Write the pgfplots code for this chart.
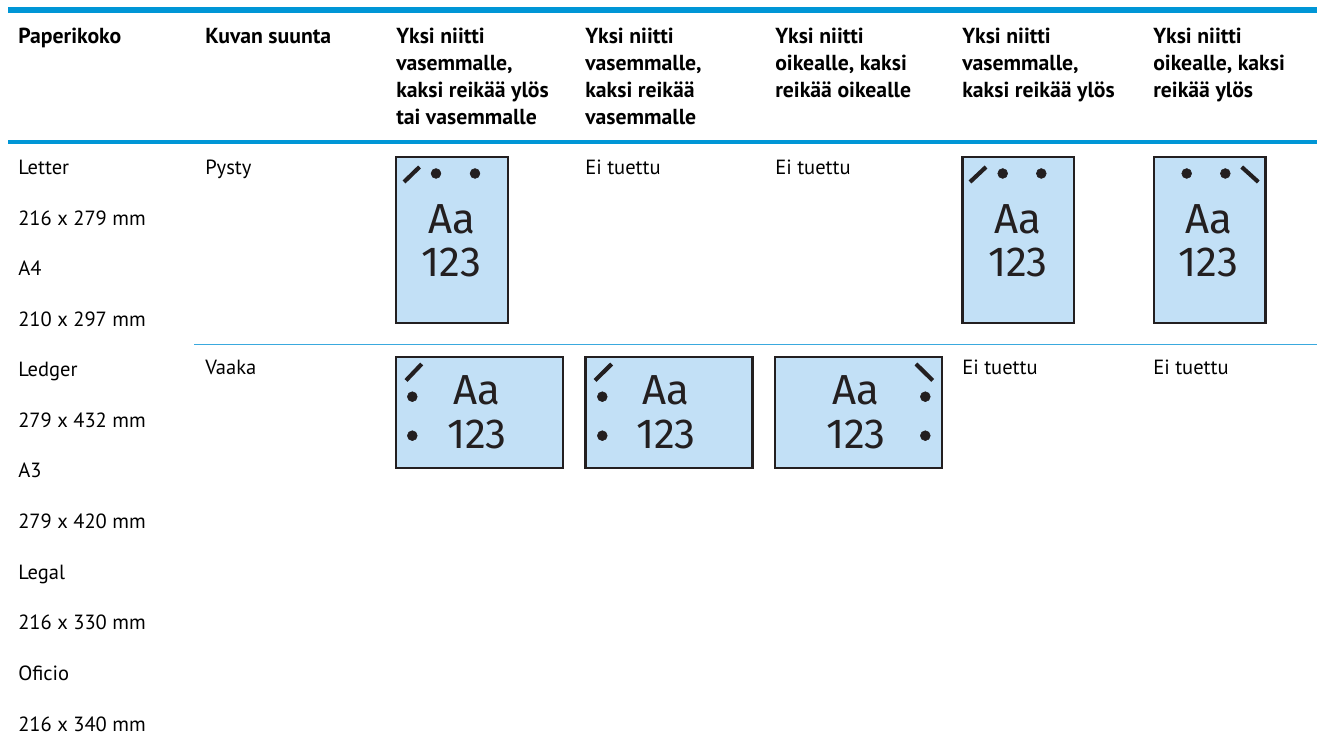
\documentclass[border=0pt]{standalone}
\usepackage{pgfplots}
\pgfplotsset{compat=1.18}
\usepackage{fontspec}
\setmainfont{PT Sans}
\newfontfamily\figs{Fira Sans}
\definecolor{hpblue}{HTML}{0096D6}
\definecolor{rowblue}{HTML}{3AA9DE}
\definecolor{pagefill}{HTML}{C2E0F6}
\definecolor{ink}{HTML}{231F20}
\newcommand{\hd}[3]{\node[anchor=base west,inner sep=0pt,font=\fontsize{16.3pt}{16.3pt}\selectfont\bfseries,text=black] at (axis cs:#1,#2+1) {#3};}
\newcommand{\tx}[3]{\node[anchor=base west,inner sep=0pt,font=\fontsize{15.4pt}{15.4pt}\selectfont,text=black] at (axis cs:#1,#2+1.5) {#3};}
\newcommand{\bigtx}[3]{\node[anchor=base,inner sep=0pt,font=\figs\fontsize{31.5pt}{31.5pt}\selectfont\addfontfeatures{Numbers=Lining},text=ink] at (axis cs:#1,#2) {Aa};
\node[anchor=base,inner sep=0pt,font=\figs\fontsize{31.5pt}{31.5pt}\selectfont\addfontfeatures{Numbers=Lining},text=ink] at (axis cs:#1,#3) {123};}
\pgfplotsset{page/.style={draw=ink,line width=1.95pt,fill=pagefill},
 staple/.style={draw=ink,line width=3.1pt},
 hole/.style={only marks,mark=*,mark size=3.7pt,mark options={fill=ink,draw=ink}}}
\begin{document}
\begin{tikzpicture}
\begin{axis}[
 hide axis, scale only axis, width=988pt, height=559.6pt,
 xmin=0,xmax=1317,ymin=0,ymax=746,y dir=reverse, clip=false]
\addplot[draw=none,fill=white] coordinates {(0,0)(1317,0)(1317,746)(0,746)} --cycle;
\addplot[draw=hpblue,line width=4.8pt] coordinates {(8,10.2)(1317,10.2)};
\addplot[draw=hpblue,line width=2.9pt] coordinates {(8,141.7)(1317,141.7)};
\addplot[draw=rowblue,line width=1.1pt] coordinates {(194,344.3)(1317,344.3)};
\addplot[page] coordinates {(396,157)(508,157)(508,323)(396,323)} --cycle;
\addplot[staple] coordinates {(404,182)(419.5,167)};
\addplot[hole] coordinates {(436,173.5)(475,173.5)};
\bigtx{451.5}{233.5}{276.7}
\addplot[page] coordinates {(962.7,157)(1074,157)(1074,323)(962.7,323)} --cycle;
\addplot[staple] coordinates {(970,182)(986,167)};
\addplot[hole] coordinates {(1002.7,173.5)(1041.3,173.5)};
\bigtx{1018}{233.5}{276.7}
\addplot[page] coordinates {(1154,157)(1265.7,157)(1265.7,323)(1154,323)} --cycle;
\addplot[staple] coordinates {(1241.7,167)(1258.3,182)};
\addplot[hole] coordinates {(1186.7,173.5)(1225.3,173.5)};
\bigtx{1208.5}{233.5}{276.7}
\addplot[page] coordinates {(396,357)(563,357)(563,468)(396,468)} --cycle;
\addplot[staple] coordinates {(406,380.5)(421.7,364)};
\addplot[hole] coordinates {(412.3,396.7)(412.3,435.7)};
\bigtx{477}{405}{448.3}
\addplot[page] coordinates {(585.7,357)(752.3,357)(752.3,468)(585.7,468)} --cycle;
\addplot[staple] coordinates {(595,380.5)(611.7,364)};
\addplot[hole] coordinates {(602.3,396.7)(602.3,435.7)};
\bigtx{666}{405}{448.3}
\addplot[page] coordinates {(775,357)(942,357)(942,468)(775,468)} --cycle;
\addplot[staple] coordinates {(916,364)(932.7,380.5)};
\addplot[hole] coordinates {(925.3,396.7)(925.3,435.7)};
\bigtx{856}{405}{448.3}
\hd{18}{43}{Paperikoko}
\hd{205}{43}{Kuvan suunta}
\hd{396}{43}{Yksi niitti}\hd{396}{70}{vasemmalle,}\hd{396}{97}{kaksi reikää ylös}\hd{396}{124}{tai vasemmalle}
\hd{585}{43}{Yksi niitti}\hd{585}{70}{vasemmalle,}\hd{585}{97}{kaksi reikää}\hd{585}{124}{vasemmalle}
\hd{775}{43}{Yksi niitti}\hd{775}{70}{oikealle, kaksi}\hd{775}{97}{reikää oikealle}
\hd{962}{43}{Yksi niitti}\hd{962}{70}{vasemmalle,}\hd{962}{97}{kaksi reikää ylös}
\hd{1153}{43}{Yksi niitti}\hd{1153}{70}{oikealle, kaksi}\hd{1153}{97}{reikää ylös}
\tx{18}{173}{Letter}\tx{18}{224}{216 x 279 mm}\tx{18}{274.5}{A4}\tx{18}{325}{210 x 297 mm}
\tx{18}{375}{Ledger}\tx{18}{426}{279 x 432 mm}\tx{18}{476}{A3}\tx{18}{527}{279 x 420 mm}
\tx{18}{578}{Legal}\tx{18}{628}{216 x 330 mm}\tx{18}{679}{Oficio}\tx{18}{730}{216 x 340 mm}
\tx{205}{173}{Pysty}\tx{205}{373}{Vaaka}
\tx{585}{173}{Ei tuettu}\tx{775}{173}{Ei tuettu}
\tx{962}{373}{Ei tuettu}\tx{1153}{373}{Ei tuettu}
\end{axis}
\pgfresetboundingbox
\useasboundingbox (current axis.south west) rectangle (current axis.north east);
\end{tikzpicture}
\end{document}
